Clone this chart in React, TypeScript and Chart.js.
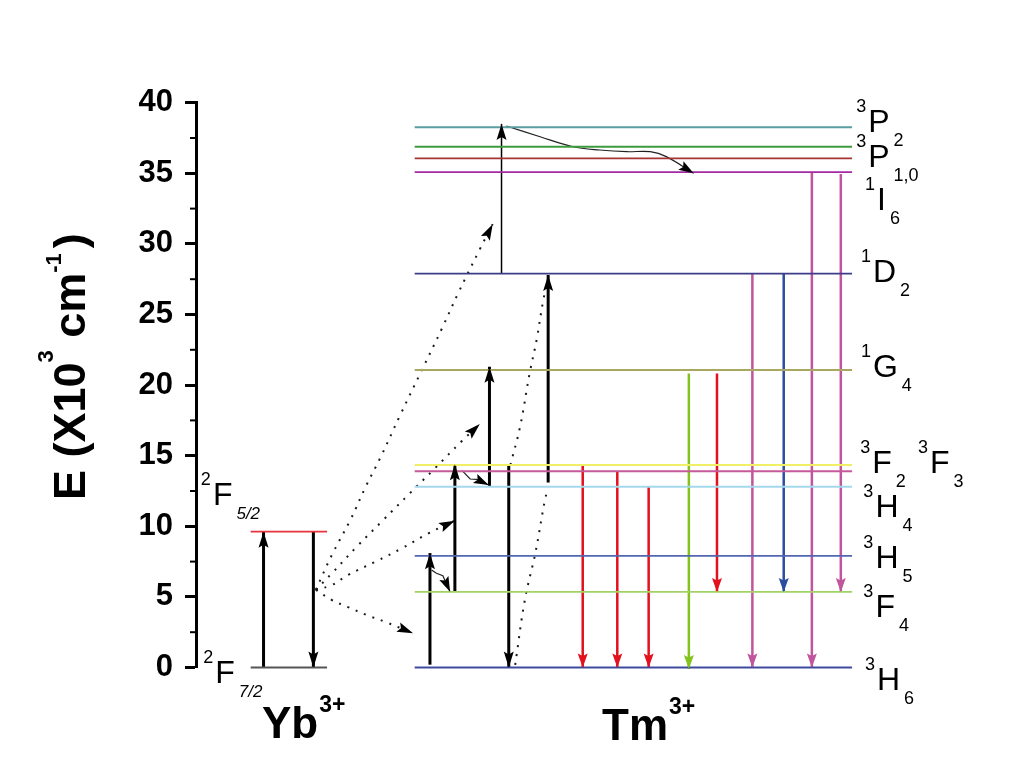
import React, { useEffect, useRef } from 'react';
import { Chart, registerables } from 'chart.js';

Chart.register(...registerables);

// ---------- Energy levels (E in 10^3 cm^-1) ----------
const tmLevelNames = ['3P2', '3P1', '3P0', '1I6', '1D2', '1G4', '3F2', '3F3', '3H4', '3H5', '3F4', '3H6'];
const tmLevelEnergy = [38.26, 36.88, 36.06, 35.09, 27.89, 21.07, 14.34, 13.9, 12.8, 7.9, 5.35, 0];
const tmLevelColor = ['#5a9ea2', '#3e9a3e', '#a83434', '#a42aa4', '#3c3c8a', '#a8a860', '#f0f066', '#c65a98', '#a4d8ec', '#5266b2', '#a2d266', '#3e4a9e'];
const tmLevelXRange = [27.2, 81.6];

const ybLevelNames = ['2F5/2', '2F7/2'];
const ybLevelEnergy = [9.62, 0];
const ybLevelColor = ['#e8323c', '#555555'];
const ybLevelXRange = [6.8, 16.3];

// ---------- Radiative / pump transitions (vertical arrows) ----------
const arrowX = [8.4, 14.6, 29.1, 32.2, 36.5, 38.9, 43.8, 38.0, 48.1, 52.4, 56.3, 61.3, 64.8, 69.2, 73.1, 76.6, 80.2];
const arrowFrom = [0, 9.62, 0.2, 5.35, 12.8, 14.34, 13.1, 27.89, 14.34, 13.9, 12.8, 20.83, 20.83, 27.89, 27.89, 35.09, 34.95];
const arrowTo = [9.62, 0, 8.1, 14.4, 21.3, 0, 27.8, 38.5, 0, 0, 0, -0.1, 5.35, 0, 5.35, 0, 5.35];
const arrowColor = ['#000', '#000', '#000', '#000', '#000', '#000', '#000', '#000', '#e3101e', '#e3101e', '#e3101e', '#82c31e', '#e3101e', '#c0559d', '#2a4fa0', '#c0559d', '#c0559d'];
const arrowWidth = [3, 3, 3, 3, 3, 3, 3, 1.5, 2.5, 2.5, 2.5, 2.5, 2.5, 2.5, 2.5, 2.5, 2.5];

// ---------- Energy transfer (dotted curves) [x, E] ----------
const etToH6: number[][] = [[14.9, 5.5], [16.9, 4.78], [18.9, 4.28], [21.2, 3.72], [23.5, 3.24], [27.0, 2.42]];
const etToF4: number[][] = [[14.9, 5.5], [16.9, 5.84], [18.9, 6.55], [22.3, 7.49], [25.6, 8.44], [28.9, 9.5], [32.2, 10.4]];
const etToH4: number[][] = [[14.9, 5.5], [16.9, 6.67], [20.0, 8.56], [23.3, 10.45], [26.6, 12.34], [29.7, 14.1], [33.0, 16.0], [35.3, 17.24]];
const etToG4: number[][] = [[14.9, 5.5], [16.9, 7.97], [19.2, 10.45], [21.2, 12.92], [22.9, 14.82], [25.4, 17.88], [28.1, 21.07], [30.6, 24.02], [32.6, 26.5], [35.3, 29.62], [36.9, 31.4]];
const crossLow: number[][] = [[39.7, 0.18], [40.9, 4.78], [42.2, 8.09], [43.4, 11.86], [43.8, 12.7]];
const crossHigh: number[][] = [[39.1, 14.34], [40.3, 17.03], [41.5, 20.84], [42.4, 23.31], [43.2, 26.03], [43.8, 27.44]];

// ---------- Non-radiative relaxations (thin wavy lines) ----------
const relaxH5F4: number[][] = [[29.3, 6.9], [29.9, 6.67], [30.7, 6.5], [31.6, 5.37]];
const relaxF2H4: number[][] = [[33.1, 13.94], [34.1, 13.35], [34.9, 13.33], [36.4, 12.92]];
const relaxP2I6: number[][] = [[38.6, 38.35], [42.8, 37.59], [46.9, 36.88], [50.2, 36.65], [53.6, 36.53], [56.5, 36.53], [58.5, 36.18], [61.9, 35.0]];

// ---------- Labels ----------
const levelLabelSup = ['3', '3', '1', '1', '1', '3', '3', '3', '3', '3', '3', '2', '2'];
const levelLabelMain = ['P', 'P', 'I', 'D', 'G', 'F', 'F', 'H', 'H', 'F', 'H', 'F', 'F'];
const levelLabelSub = ['2', '1,0', '6', '2', '4', '2', '3', '4', '5', '4', '6', '5/2', '7/2'];
const levelLabelX = [83.6, 83.6, 84.7, 84.2, 84.2, 84.1, 91.3, 84.5, 84.5, 84.5, 84.7, 2.1, 2.4];
const levelLabelY = [37.93, 35.45, 32.4, 27.3, 20.57, 13.77, 13.77, 10.66, 7.05, 3.58, -1.59, 11.51, -1.1];

const ionNames = ['Yb', 'Tm'];
const ionCharge = ['3+', '3+'];
const ionLabelX = [8.2, 50.5];
const ionLabelY = [-4.99, -5.13];

const yTicksMajor = [0, 5, 10, 15, 20, 25, 30, 35, 40];
const yTicksMinor = [2.5, 7.5, 12.5, 17.5, 22.5, 27.5, 32.5, 37.5];

const FONT = '"Liberation Sans", Arial, Helvetica, sans-serif';

const pts = (arr: number[][]) => arr.map(([x, y]) => ({ x, y }));

function buildDatasets() {
  const ds: any[] = [];
  const base = { pointRadius: 0, showLine: true, clip: false, fill: false };
  tmLevelEnergy.forEach((e, i) => {
    ds.push({ ...base, label: tmLevelNames[i], data: [{ x: tmLevelXRange[0], y: e }, { x: tmLevelXRange[1], y: e }], borderColor: tmLevelColor[i], borderWidth: 1.8 });
  });
  ybLevelEnergy.forEach((e, i) => {
    ds.push({ ...base, label: ybLevelNames[i], data: [{ x: ybLevelXRange[0], y: e }, { x: ybLevelXRange[1], y: e }], borderColor: ybLevelColor[i], borderWidth: 1.8 });
  });
  const dotted = (arr: number[][], head: boolean) => ({
    ...base, data: pts(arr), borderColor: '#1a1a1a', borderWidth: 2, borderDash: [2, 7], tension: 0.4,
    arrowHead: head ? { color: '#000', length: 16, width: 5 } : null,
  });
  ds.push(dotted(etToH6, true));
  ds.push(dotted(etToF4, true));
  ds.push(dotted(etToH4, true));
  ds.push(dotted(etToG4, true));
  ds.push(dotted(crossLow, false));
  ds.push(dotted(crossHigh, false));
  const wavy = (arr: number[][], tension: number) => ({
    ...base, data: pts(arr), borderColor: '#222', borderWidth: 1.2, tension,
    arrowHead: { color: '#000', length: 15, width: 5 },
  });
  ds.push(wavy(relaxH5F4, 0));
  ds.push(wavy(relaxF2H4, 0));
  ds.push(wavy(relaxP2I6, 0.35));
  arrowX.forEach((x, i) => {
    const black = arrowColor[i] === '#000';
    ds.push({
      ...base, data: [{ x, y: arrowFrom[i] }, { x, y: arrowTo[i] }], borderColor: arrowColor[i], borderWidth: arrowWidth[i],
      arrowHead: { color: arrowColor[i], length: black ? 16 : 14, width: 5 },
    });
  });
  return ds;
}

const arrowHeadPlugin = {
  id: 'arrowHeads',
  afterDatasetsDraw(chart: any) {
    const ctx = chart.ctx;
    chart.data.datasets.forEach((ds: any, i: number) => {
      if (!ds.arrowHead) return;
      const meta = chart.getDatasetMeta(i);
      const els = meta.data;
      const n = els.length;
      const tip = els[n - 1];
      const prev = els[n - 2];
      let fx = prev.x, fy = prev.y;
      if (ds.tension && tip.cp1x !== undefined) {
        const d = Math.hypot(tip.x - tip.cp1x, tip.y - tip.cp1y);
        if (d > 1) { fx = tip.cp1x; fy = tip.cp1y; }
      }
      const ang = Math.atan2(tip.y - fy, tip.x - fx);
      const L = ds.arrowHead.length, W = ds.arrowHead.width;
      ctx.save();
      ctx.translate(tip.x, tip.y);
      ctx.rotate(ang);
      ctx.beginPath();
      ctx.moveTo(0, 0);
      ctx.lineTo(-L, -W);
      ctx.lineTo(-L * 0.82, 0);
      ctx.lineTo(-L, W);
      ctx.closePath();
      ctx.fillStyle = ds.arrowHead.color;
      ctx.fill();
      ctx.restore();
    });
  },
};

const textPlugin = {
  id: 'texts',
  afterDraw(chart: any) {
    const ctx = chart.ctx;
    const xs = chart.scales.x;
    const ys = chart.scales.y;
    ctx.save();
    ctx.fillStyle = '#000';
    ctx.textBaseline = 'alphabetic';
    // minor ticks
    ctx.strokeStyle = '#000';
    ctx.lineWidth = 2;
    const left = chart.chartArea.left;
    yTicksMinor.forEach((v) => {
      const py = ys.getPixelForValue(v);
      ctx.beginPath();
      ctx.moveTo(left - 6, py);
      ctx.lineTo(left, py);
      ctx.stroke();
    });
    // level labels
    levelLabelMain.forEach((m, i) => {
      const px = xs.getPixelForValue(levelLabelX[i]);
      const py = ys.getPixelForValue(levelLabelY[i]);
      ctx.font = `32px ${FONT}`;
      ctx.textAlign = 'left';
      ctx.fillText(m, px, py);
      const w = ctx.measureText(m).width;
      ctx.font = `18px ${FONT}`;
      ctx.textAlign = 'right';
      ctx.fillText(levelLabelSup[i], px - 2, py - 20);
      const sub = levelLabelSub[i];
      ctx.font = sub.includes('/') ? `italic 17px ${FONT}` : `18px ${FONT}`;
      ctx.textAlign = 'left';
      ctx.fillText(sub, px + w + 4, py + 14);
    });
    // ion labels
    ionNames.forEach((n, i) => {
      const px = xs.getPixelForValue(ionLabelX[i]);
      const py = ys.getPixelForValue(ionLabelY[i]);
      ctx.font = `bold 44px ${FONT}`;
      ctx.textAlign = 'left';
      ctx.fillText(n, px, py);
      const w = ctx.measureText(n).width;
      ctx.font = `bold 23px ${FONT}`;
      ctx.fillText(ionCharge[i], px + w + 1, py - 26);
    });
    // y-axis title
    const midY = (chart.chartArea.top + chart.chartArea.bottom) / 2;
    ctx.translate(85, midY + 115);
    ctx.rotate(-Math.PI / 2);
    ctx.textAlign = 'left';
    const parts: [string, string, number, number][] = [
      ['E (X10', `bold 45px ${FONT}`, 0, 0],
      ['3', `bold 22px ${FONT}`, -32, 0],
      [' cm', `bold 45px ${FONT}`, 0, 0],
      ['-1', `bold 22px ${FONT}`, -24, 0],
      [')', `bold 45px ${FONT}`, 0, 5],
    ];
    let cx = 0;
    parts.forEach(([t, f, dy, gap]) => {
      ctx.font = f;
      cx += gap;
      ctx.fillText(t, cx, dy);
      cx += ctx.measureText(t).width;
    });
    ctx.restore();
  },
};

export default function App() {
  const ref = useRef<HTMLCanvasElement>(null);
  useEffect(() => {
    if (!ref.current) return;
    const chart = new Chart(ref.current, {
      type: 'scatter',
      data: { datasets: buildDatasets() },
      options: {
        responsive: false,
        animation: false,
        events: [],
        devicePixelRatio: 1,
        layout: { padding: { top: 102.7, bottom: 110.5, left: 0, right: 36 } },
        plugins: { legend: { display: false }, tooltip: { enabled: false }, title: { display: false } },
        scales: {
          x: { type: 'linear', min: 0, max: 100, display: false },
          y: {
            type: 'linear',
            min: 0,
            max: 40,
            afterFit: (scale: any) => { scale.width = 196; },
            afterBuildTicks: (scale: any) => { scale.ticks = yTicksMajor.map((v) => ({ value: v })); },
            ticks: {
              stepSize: 5,
              color: '#000',
              padding: 12,
              font: { family: 'Liberation Sans', size: 31, weight: 'bold' },
            },
            grid: { drawOnChartArea: false, tickLength: 11, tickWidth: 3, tickColor: '#000', color: '#000' },
            border: { display: true, color: '#000', width: 3 },
          },
        },
      } as any,
      plugins: [arrowHeadPlugin, textPlugin],
    });
    return () => chart.destroy();
  }, []);
  return (
    <div style={{ position: 'absolute', left: 0, top: 0, width: 1036, height: 778, background: '#fff' }}>
      <canvas ref={ref} width={1036} height={778} style={{ display: 'block', width: 1036, height: 778 }} />
    </div>
  );
}
